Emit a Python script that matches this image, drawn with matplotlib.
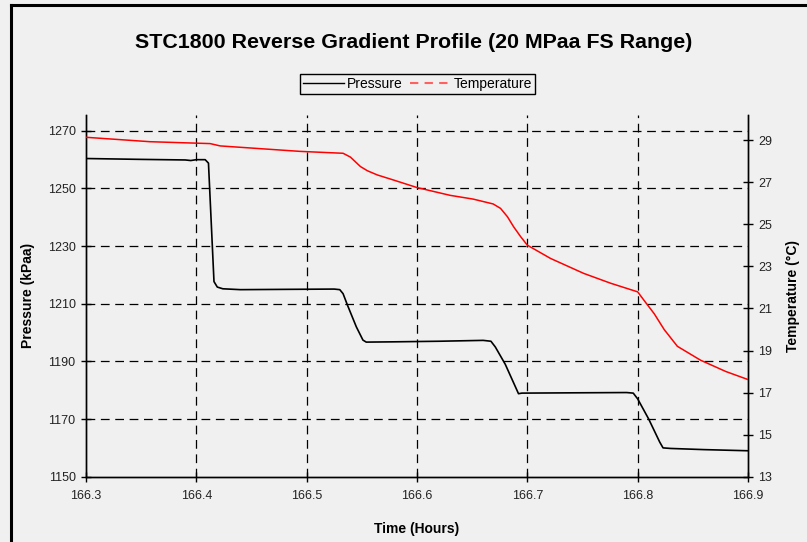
import matplotlib
matplotlib.use("Agg")
import matplotlib.pyplot as plt
from matplotlib.lines import Line2D

plt.rcParams['font.family'] = ['Liberation Sans', 'DejaVu Sans']

# ---- data ----
p_time = [166.300, 166.350, 166.390, 166.395, 166.400, 166.408, 166.411, 166.416,
          166.419, 166.424, 166.440, 166.480, 166.525, 166.530, 166.533, 166.537,
          166.545, 166.551, 166.554, 166.580, 166.620, 166.660, 166.667, 166.671,
          166.680, 166.690, 166.692, 166.695, 166.740, 166.790, 166.796, 166.800,
          166.810, 166.820, 166.823, 166.830, 166.860, 166.900]
pressure = [1260.4, 1260.1, 1259.9, 1259.7, 1260.0, 1260.0, 1258.8, 1217.7,
            1215.8, 1215.2, 1214.9, 1215.0, 1215.1, 1214.9, 1213.5, 1209.5,
            1202.0, 1197.4, 1196.7, 1196.8, 1197.0, 1197.3, 1197.0, 1195.0,
            1189.0, 1180.5, 1178.8, 1179.0, 1179.1, 1179.2, 1179.0, 1177.0,
            1170.0, 1162.0, 1160.0, 1159.8, 1159.4, 1159.0]

t_time = [166.300, 166.358, 166.4125, 166.4216, 166.494, 166.533, 166.5396, 166.5487,
          166.555, 166.564, 166.5786, 166.600, 166.630, 166.651, 166.669, 166.6757,
          166.682, 166.6875, 166.694, 166.700, 166.721, 166.751, 166.7755, 166.800,
          166.807, 166.815, 166.824, 166.836, 166.857, 166.880, 166.900]
temperature = [29.14, 28.93, 28.84, 28.73, 28.47, 28.38, 28.20, 27.75,
               27.55, 27.35, 27.11, 26.75, 26.38, 26.20, 25.97, 25.76,
               25.36, 24.89, 24.41, 24.01, 23.38, 22.67, 22.20, 21.79,
               21.30, 20.75, 20.00, 19.20, 18.54, 18.00, 17.62]

x_ticks = [166.3, 166.4, 166.5, 166.6, 166.7, 166.8, 166.9]
p_ticks = [1150, 1170, 1190, 1210, 1230, 1250, 1270]
t_ticks = [13, 15, 17, 19, 21, 23, 25, 27, 29]

title = "STC1800 Reverse Gradient Profile (20 MPaa FS Range)"

# ---- figure ----
W, H = 807, 542
bg = '#f0f0f0'
fig = plt.figure(figsize=(W / 100, H / 100), dpi=100, facecolor=bg)

ax = fig.add_axes([86 / W, 1 - 476.7 / H, (748 - 86) / W, (476.7 - 115) / H])
ax.set_facecolor(bg)
ax.set_xlim(166.3, 166.9)
ax.set_ylim(1150, 1275.5)
ax.set_xticks(x_ticks)
ax.set_xticklabels([f"{v:.1f}" for v in x_ticks])
ax.set_yticks(p_ticks)

grid_kw = dict(color='black', linewidth=0.9, dashes=(7, 4.5), zorder=1)
for v in p_ticks[1:]:
    ax.axhline(v, **grid_kw)
for v in x_ticks[1:-1]:
    ax.axvline(v, **grid_kw)

ax.plot(p_time, pressure, color='black', linewidth=1.2, zorder=3)

ax2 = ax.twinx()
ax2.set_ylim(13, 30.2)
ax2.set_yticks(t_ticks)
ax2.plot(t_time, temperature, color='red', linewidth=1.1, zorder=3)

for a in (ax, ax2):
    a.spines['top'].set_visible(False)
    for s in a.spines.values():
        s.set_linewidth(1.0)
        s.set_color('black')
    a.tick_params(direction='inout', length=7, width=1.0, labelsize=9,
                  colors='black', labelcolor='#222222')
ax.tick_params(axis='x', pad=6)
ax.tick_params(axis='y', pad=4)
ax2.tick_params(axis='y', pad=4)

ax.set_xlabel("Time (Hours)", fontsize=10, fontweight='bold')
ax.xaxis.set_label_coords(0.5, -0.125)
ax.set_ylabel("Pressure (kPaa)", fontsize=10, fontweight='bold')
ax.yaxis.set_label_coords(-0.077, 0.5)
ax2.set_ylabel("Temperature (°C)", fontsize=10, fontweight='bold')
ax2.yaxis.set_label_coords(1.057, 0.5)

fig.text(414 / W, 1 - 42 / H, title, ha='center', va='center',
         fontsize=15.4, fontweight='bold')

handles = [Line2D([], [], color='black', linewidth=1.0),
           Line2D([], [], color='#ff6060', linewidth=1.5, linestyle=(0, (4, 3)))]
leg = fig.legend(handles, ["Pressure", "Temperature"], ncol=2,
                 loc='center', bbox_to_anchor=(417.5 / W, 1 - 84 / H),
                 frameon=True, fancybox=False, fontsize=10,
                 handlelength=3.0, handletextpad=0.2, columnspacing=0.5,
                 borderpad=0.2, borderaxespad=0)
leg.get_frame().set_edgecolor('black')
leg.get_frame().set_facecolor(bg)
leg.get_frame().set_linewidth(1.0)
leg.get_frame().set_alpha(1)

# figure border (top and left visible)
fig.add_artist(Line2D([11 / W, 11 / W], [0, 1 - 5 / H], transform=fig.transFigure,
                      color='black', linewidth=2.2))
fig.add_artist(Line2D([11 / W, 1], [1 - 5 / H, 1 - 5 / H], transform=fig.transFigure,
                      color='black', linewidth=2.2))

fig.savefig("out.png", dpi=100, facecolor=bg)
